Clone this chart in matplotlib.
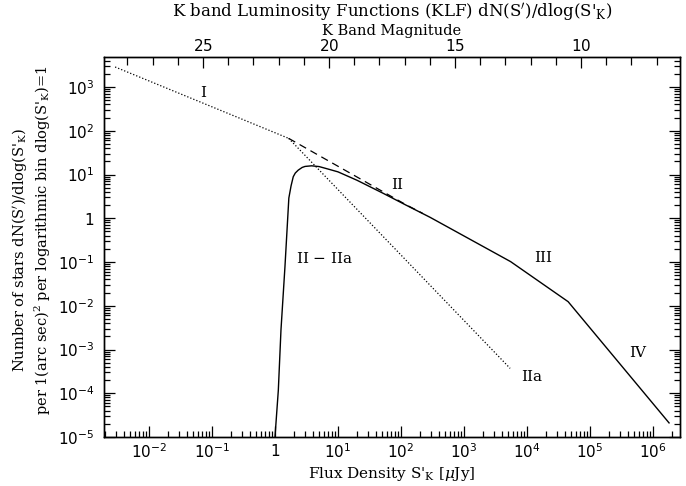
import matplotlib
matplotlib.use('Agg')
import matplotlib.pyplot as plt
from matplotlib.ticker import FixedLocator, FuncFormatter, LogLocator, MultipleLocator, NullFormatter
import numpy as np

plt.rcParams['font.family'] = ['DejaVu Serif']
plt.rcParams['mathtext.fontset'] = 'dejavuserif'

# power law segments (flux in uJy, counts per log bin)
reg1_x = [2.9e-3, 1.65]
reg1_y = [2.87e3, 67]

reg2_x = [1.65, 52.5, 120, 220]
reg2_y = [67, 4.0, 2.04, 1.3]

reg2a_x = [1.65, 5.4e3]
reg2a_y = [67, 3.7e-4]

# II - IIa, then III and IV
diff_x = [1.0, 1.13, 1.245, 1.44, 1.66, 1.8, 1.95, 2.1, 2.34, 2.7, 3.0, 3.8, 5.0, 7.0, 10,
          20, 52.5, 120, 290, 5.5e3, 4.5e4, 1.8e6]
diff_y = [1e-5, 1.17e-4, 2.8e-3, 0.078, 2.9, 5.5, 8.9, 10.8, 12.6, 14.5, 15.3, 15.8, 15.2,
          13.3, 11.5, 7.4, 3.7, 2.0, 1.05, 0.102, 0.0124, 2.1e-5]

labels = ['I', 'II', 'II $-$ IIa', 'III', 'IIa', 'IV']
label_x = [0.072, 86, 6.2, 1.8e4, 1.2e4, 5.8e5]
label_y = [730, 5.8, 0.123, 0.123, 2.3e-4, 8.3e-4]

x_decades = list(range(-2, 7))
y_decades = list(range(-5, 4))
mag_ticks = [25, 20, 15, 10]
F0 = 7.2e8  # uJy at K = 0

fig = plt.figure(figsize=(6.86, 4.86), dpi=100)
ax = fig.add_axes([104 / 686, 49 / 486, 576 / 686, 380 / 486])

ax.plot(reg1_x, reg1_y, color='black', lw=0.9, ls=(0, (1, 1.6)))
ax.plot(reg2a_x, reg2a_y, color='black', lw=0.9, ls=(0, (1, 1.6)))
ax.plot(reg2_x, reg2_y, color='black', lw=0.9, ls=(0, (6, 4)))
ax.plot(diff_x, diff_y, color='black', lw=1.0)

for t, x, y in zip(labels, label_x, label_y):
    ax.text(x, y, t, ha='center', va='center', fontsize=11)

ax.set_xscale('log')
ax.set_yscale('log')
xmin, xmax = 10 ** -2.714, 10 ** 6.429
ax.set_xlim(xmin, xmax)
ax.set_ylim(1e-5, 10 ** 3.686)


def fmt(v, pos):
    e = int(round(np.log10(v)))
    if e == 0:
        return r'$\mathsf{1}$'
    return r'$\mathsf{10^{%d}}$' % e


ax.xaxis.set_major_locator(FixedLocator([10.0 ** e for e in x_decades]))
ax.yaxis.set_major_locator(FixedLocator([10.0 ** e for e in y_decades]))
ax.xaxis.set_minor_locator(LogLocator(base=10, subs=np.arange(2, 10), numticks=20))
ax.yaxis.set_minor_locator(LogLocator(base=10, subs=np.arange(2, 10), numticks=20))
ax.xaxis.set_major_formatter(FuncFormatter(fmt))
ax.yaxis.set_major_formatter(FuncFormatter(fmt))
ax.xaxis.set_minor_formatter(NullFormatter())
ax.yaxis.set_minor_formatter(NullFormatter())
ax.tick_params(which='both', direction='in', right=True, top=False, labelsize=11, width=0.9)
ax.tick_params(which='major', length=8)
ax.tick_params(which='minor', length=4)
ax.tick_params(axis='x', pad=4)
ax.tick_params(axis='y', pad=7)

# top axis: K band magnitude
top = ax.twiny()
top.set_xlim(-2.5 * np.log10(xmin / F0), -2.5 * np.log10(xmax / F0))
top.xaxis.set_major_locator(FixedLocator(mag_ticks))
top.xaxis.set_minor_locator(MultipleLocator(1))
top.tick_params(which='both', direction='in', labelsize=11, width=0.9)
top.tick_params(which='major', length=8, pad=2)
top.tick_params(which='minor', length=6)
top.set_xticklabels([r'$\mathsf{%d}$' % m for m in mag_ticks])
top.set_xlabel('K Band Magnitude', fontsize=10.5, labelpad=2)

for a in (ax, top):
    for s in a.spines.values():
        s.set_linewidth(1.0)

ax.set_xlabel(r"Flux Density S$'_{\rm K}$ [$\mu$Jy]", fontsize=11, labelpad=3)

# two-line y label
fig.text(20 / 686, 1 - 250 / 486, "Number of stars dN(S$'$)/dlog(S$'_{\\rm K}$)",
         rotation=90, ha='center', va='center', fontsize=10.5)
fig.text(43 / 686, 1 - 240 / 486,
         "per 1(arc sec)$^2$ per logarithmic bin dlog(S$'_{\\rm K}$)=1",
         rotation=90, ha='center', va='center', fontsize=10.5)

fig.text(392 / 686, 1 - 13 / 486, "K band Luminosity Functions (KLF) dN(S$'$)/dlog(S$'_{\\rm K}$)",
         ha='center', va='center', fontsize=12)

fig.savefig('out.png', dpi=100)
